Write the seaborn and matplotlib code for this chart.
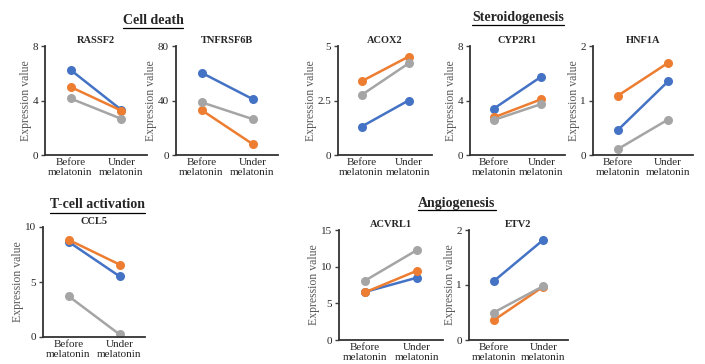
import numpy as np
import pandas as pd
import matplotlib
matplotlib.use('Agg')
import matplotlib.pyplot as plt
from matplotlib.lines import Line2D
import seaborn as sns

# x categories and series (blue, orange, grey)
categories = ['Before\nmelatonin', 'Under\nmelatonin']
series = ['Series 1', 'Series 2', 'Series 3']
colors = ['#4472C4', '#ED7D31', '#A5A5A5']

# values per gene: [series1, series2, series3], each [before, under]
rassf2 = [[6.25, 3.3], [5.0, 3.25], [4.15, 2.65]]
tnfrsf6b = [[60.4, 41.1], [33.0, 8.1], [38.7, 26.4]]
acox2 = [[1.3, 2.5], [3.38, 4.51], [2.75, 4.2]]
cyp2r1 = [[3.4, 5.75], [2.76, 4.09], [2.57, 3.74]]
hnf1a = [[0.46, 1.35], [1.09, 1.69], [0.11, 0.65]]
ccl5 = [[8.66, 5.52], [8.84, 6.59], [3.72, 0.24]]
acvrl1 = [[6.55, 8.5], [6.5, 9.45], [8.09, 12.27]]
etv2 = [[1.07, 1.82], [0.36, 0.97], [0.5, 0.98]]

gene_names = ['RASSF2', 'TNFRSF6B', 'ACOX2', 'CYP2R1', 'HNF1A', 'CCL5', 'ACVRL1', 'ETV2']
gene_values = [rassf2, tnfrsf6b, acox2, cyp2r1, hnf1a, ccl5, acvrl1, etv2]
y_ticks = [[0, 4, 8], [0, 40, 80], [0, 2.5, 5], [0, 4, 8], [0, 1, 2],
           [0, 5, 10], [0, 5, 10, 15], [0, 1, 2]]
y_ticklabels = [['0', '4', '8'], ['0', '40', '80'], ['0', '2.5', '5'], ['0', '4', '8'],
                ['0', '1', '2'], ['0', '5', '10'], ['0', '5', '10', '15'], ['0', '1', '2']]

section_titles = ['Cell death', 'Steroidogenesis', 'T-cell activation', 'Angiogenesis']

W, H = 705, 364
# axes boxes in pixels: left, right, top, bottom
boxes = [(45, 147, 46, 155), (176, 278, 46, 155), (338, 432, 46, 155),
         (470, 565, 46, 155), (593, 693, 46, 155),
         (43, 145, 227, 337), (339, 443, 230, 340), (469, 568, 230, 340)]
section_pos = [(153, 20), (518, 18), (97, 205), (457, 203)]

sns.set_style('white')
plt.rcParams['font.family'] = ['Liberation Serif', 'DejaVu Serif']


def draw_panel(ax, name, values, ticks, ticklabels):
    rows = []
    for s, pair in zip(series, values):
        for i, v in enumerate(pair):
            rows.append({'x': i, 'value': v, 'series': s})
    df = pd.DataFrame(rows)
    sns.lineplot(ax=ax, data=df, x='x', y='value', hue='series', hue_order=series,
                 palette=colors, marker='o', markersize=6.5, markeredgewidth=0,
                 linewidth=1.8, legend=False, errorbar=None)
    ax.set_xlim(-0.5, 1.5)
    ax.set_ylim(0, ticks[-1])
    ax.set_xticks([0, 1])
    ax.set_xticklabels(categories, fontsize=8, color='#262626', linespacing=1.15)
    ax.set_yticks(ticks)
    ax.set_yticklabels(ticklabels, fontsize=8, color='#262626')
    ax.tick_params(axis='y', length=3, width=1, color='#404040', pad=2, left=True)
    ax.tick_params(axis='x', length=0, pad=2)
    ax.set_xlabel('')
    ax.set_ylabel('Expression value', fontsize=8.5, color='#595959', labelpad=0.5)
    ax.set_title(name, fontsize=7.5, fontweight='bold', pad=2)
    sns.despine(ax=ax)
    for sp in ['left', 'bottom']:
        ax.spines[sp].set_color('#333333')
        ax.spines[sp].set_linewidth(1.3)


fig = plt.figure(figsize=(W / 100, H / 100), dpi=100)
for name, vals, ticks, tl, (l, r, t, b) in zip(gene_names, gene_values, y_ticks, y_ticklabels, boxes):
    ax = fig.add_axes([l / W, 1 - b / H, (r - l) / W, (b - t) / H])
    draw_panel(ax, name, vals, ticks, tl)

texts = []
for title, (cx, cy) in zip(section_titles, section_pos):
    texts.append(fig.text(cx / W, 1 - cy / H, title, ha='center', va='center',
                          fontsize=10, fontweight='bold'))

# underline the section titles
fig.canvas.draw()
renderer = fig.canvas.get_renderer()
for t in texts:
    bb = t.get_window_extent(renderer).transformed(fig.transFigure.inverted())
    y = bb.y0 - 1.0 / H
    fig.add_artist(Line2D([bb.x0, bb.x1], [y, y], color='black', linewidth=0.9,
                          transform=fig.transFigure))

fig.savefig('out.png', dpi=100)
